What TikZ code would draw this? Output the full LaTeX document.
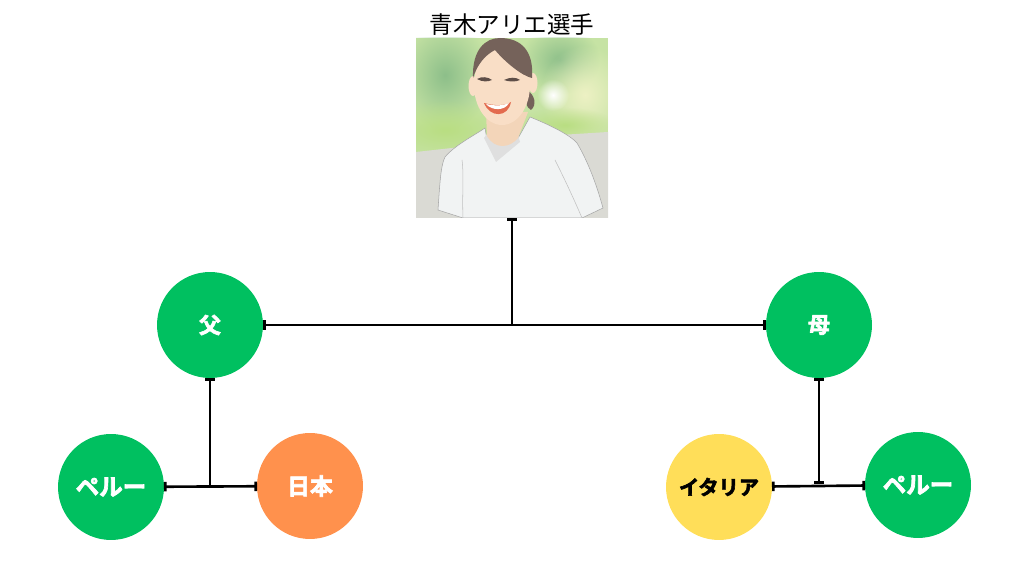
\documentclass[tikz,border=0pt]{standalone}
\usepackage{xcolor}
\usepackage{fontspec}
\usetikzlibrary{arrows.meta,fadings}
\newfontfamily\jpfont{Noto Sans CJK JP}
\newfontfamily\jpblack[FakeBold=3]{Noto Sans CJK JP Bold}
\definecolor{kuni}{HTML}{00C060}
\definecolor{nihoniro}{HTML}{FF914D}
\definecolor{italiairo}{HTML}{FFDE59}
\definecolor{leaf}{HTML}{C6E3A4}
\definecolor{leafdark}{HTML}{8DBF8A}
\definecolor{leaflight}{HTML}{B9DE82}
\definecolor{paleyellow}{HTML}{EDF1C4}
\definecolor{road}{HTML}{DADAD4}
\definecolor{skin}{HTML}{F9DEC6}
\definecolor{hair}{HTML}{75625A}
\definecolor{shirt}{HTML}{F1F3F3}
\tikzfading[name=blur, inner color=transparent!0, outer color=transparent!100]
\tikzset{
    person/.style={circle, minimum size=2.12cm, inner sep=0pt, outer sep=0pt, text=white},
    link/.style={line width=1.5pt, black, {Bar[width=5.4pt,length=1.3pt]}-{Bar[width=5.4pt,length=1.3pt]}},
    linkend/.style={line width=1.5pt, black, -{Bar[width=5.4pt,length=1.3pt]}},
    smudge/.style={path fading=blur}
}
\begin{document}
\begin{tikzpicture}[x=0.02cm, y=-0.02cm]
    \useasboundingbox (0, 0) rectangle (1024, 573);

    \node (name) at (512, 25) [font=\jpfont\fontsize{13.4pt}{15pt}\selectfont, inner sep=0pt] {青木アリエ選手};
    \node (photo) at (512, 128) [minimum width=3.84cm, minimum height=3.6cm, inner sep=0pt, outer sep=0pt, fill=leaf] {};

    % picture of the player
    \begin{scope}
        \clip (416, 38) rectangle (608, 218);
        \fill[leafdark, smudge] (445, 75) ellipse (45 and 55);
        \fill[leafdark, smudge] (560, 60) ellipse (40 and 35);
        \fill[paleyellow, smudge] (585, 95) ellipse (45 and 50);
        \fill[white, smudge] (553, 95) circle (16);
        \fill[leaflight, smudge] (445, 130) ellipse (70 and 30);
        \fill[leaflight, smudge] (565, 125) ellipse (50 and 18);
        \fill[road] (416, 152) -- (470, 146) -- (560, 135) -- (608, 132) -- (608, 218) -- (416, 218) -- cycle;
        \fill[shirt, draw=gray!70, line width=0.3pt] (438, 210) .. controls (440, 180) and (441, 165) .. (445, 157)
            .. controls (455, 145) and (475, 135) .. (485, 128) -- (487, 140) -- (500, 148) -- (517, 140) -- (530, 117)
            .. controls (550, 125) and (570, 135) .. (577, 143) .. controls (590, 165) and (598, 190) .. (603, 208)
            -- (582, 218) -- (463, 218) -- cycle;
        \draw[gray!50, line width=0.3pt] (463, 218) .. controls (462, 195) and (464, 175) .. (462, 160);
        \draw[gray!50, line width=0.3pt] (582, 218) .. controls (570, 190) and (560, 170) .. (555, 160);
        \fill[gray!25] (484, 138) -- (496, 162) -- (520, 142) -- (516, 128) -- (490, 130) -- cycle;
        \fill[skin!90!brown] (486, 112) -- (487, 136) .. controls (495, 150) and (510, 148) .. (518, 138) -- (528, 112) -- cycle;
        \fill[hair] (527, 90) .. controls (535, 95) and (537, 105) .. (531, 110) .. controls (526, 108) and (525, 100) .. (527, 90);
        \fill[skin] (473, 86) ellipse (4.5 and 10);
        \fill[skin] (533, 83) ellipse (4.5 and 10);
        \fill[skin] (502, 85) ellipse (28 and 40);
        \fill[hair] (473, 78) .. controls (472, 50) and (485, 38) .. (500, 38)
            .. controls (522, 38) and (534, 52) .. (532, 78)
            .. controls (522, 76) and (505, 62) .. (495, 50)
            .. controls (485, 55) and (477, 65) .. (473, 78);
        \fill[hair!80!black] (477, 79) .. controls (482, 76) and (488, 77) .. (492, 80) .. controls (488, 82) and (482, 82) .. (477, 79);
        \fill[hair!80!black] (504, 80) .. controls (510, 77) and (516, 77) .. (520, 80) .. controls (516, 82) and (509, 82) .. (504, 80);
        \fill[red!45!brown!80!white] (484, 103) .. controls (495, 106) and (505, 106) .. (511, 102) .. controls (508, 118) and (490, 118) .. (484, 103);
        \fill[white] (486, 104) .. controls (495, 106) and (503, 106) .. (509, 103) .. controls (505, 111) and (492, 111) .. (486, 104);
    \end{scope}

    \node (chichi) at (210, 325) [person, fill=kuni, font=\jpblack\fontsize{12.5pt}{14pt}\selectfont] {父};
    \node (haha) at (819, 325) [person, fill=kuni, font=\jpblack\fontsize{12.5pt}{14pt}\selectfont] {母};
    \node (peru1) at (111, 487) [person, fill=kuni, font=\jpblack\fontsize{13.4pt}{15pt}\selectfont] {ペルー};
    \node (nihon) at (310, 486) [person, fill=nihoniro, font=\jpblack\fontsize{13pt}{15pt}\selectfont] {日本};
    \node (italia) at (719, 487) [person, fill=italiairo, text=black, font=\jpblack\fontsize{11.5pt}{14pt}\selectfont] {イタリア};
    \node (peru2) at (918, 485) [person, fill=kuni, font=\jpblack\fontsize{13.4pt}{15pt}\selectfont] {ペルー};

    \coordinate (j0) at (512, 325);
    \coordinate (j1) at (210, 486);
    \coordinate (j2) at (819, 484);

    \draw[linkend] (j0) -- (photo.south);
    \draw[link] (chichi) -- (haha);
    \draw[linkend] (j1) -- (chichi);
    \draw[link] (peru1) -- (nihon);
    \draw[link] (j2) -- (haha);
    \draw[link] (italia) -- (peru2);
\end{tikzpicture}
\end{document}
